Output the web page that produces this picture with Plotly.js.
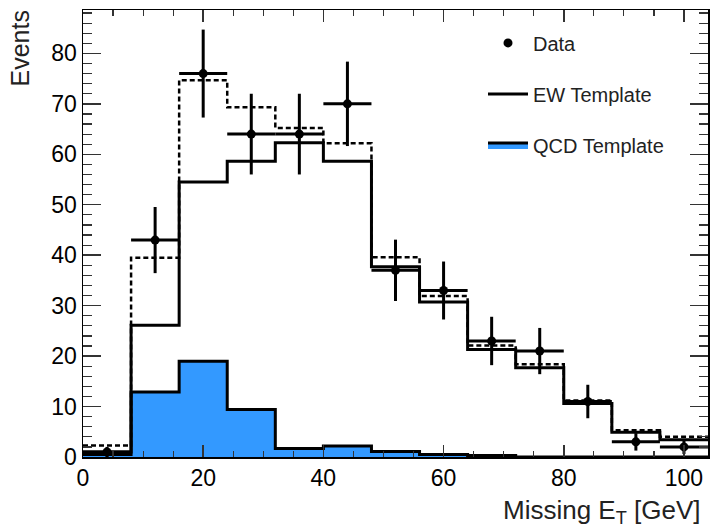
<!DOCTYPE html>
<html>
<head>
<meta charset="utf-8">
<script src="https://cdn.plot.ly/plotly-3.0.1.min.js"></script>
<style>html,body{margin:0;padding:0;background:#fff}#chart{width:710px;height:529px}</style>
</head>
<body>
<div id="chart"></div>
<script>
// Bin edges of the Missing E_T histogram [GeV]
const binEdges = [0, 8, 16, 24, 32, 40, 48, 56, 64, 72, 80, 88, 96, 104];
// Observed data counts per bin
const dataCounts = [1, 43, 76, 64, 64, 70, 37, 33, 23, 21, 11, 3, 2];
// EW template (solid)
const ewTemplate = [1.0, 26.1, 54.5, 58.6, 62.3, 58.6, 37.7, 30.7, 21.3, 17.7, 10.6, 4.9, 3.4];
// Total fit (dotted)
const totalFit = [2.3, 39.5, 74.7, 69.3, 65.2, 62.2, 39.6, 31.9, 22.1, 18.4, 11.2, 5.3, 4.0];
// QCD template (filled)
const qcdTemplate = [0.5, 12.9, 19.0, 9.4, 1.7, 2.2, 1.1, 0.5, 0.3, 0, 0, 0, 0];

const centers = dataCounts.map((_, i) => (binEdges[i] + binEdges[i + 1]) / 2);
const halfW = dataCounts.map((_, i) => (binEdges[i + 1] - binEdges[i]) / 2);
const errs = dataCounts.map(v => Math.sqrt(v));
const stepY = arr => arr.concat([arr[arr.length - 1]]);

const FONT = '"Liberation Sans", Arial, Helvetica, sans-serif';

const traces = [
  {
    type: 'scatter', mode: 'lines', name: 'QCD Template',
    x: binEdges, y: stepY(qcdTemplate), line: {shape: 'hv', color: '#000', width: 3},
    fill: 'tozeroy', fillcolor: '#3399ff', legendrank: 3, legendgroup: 'c'
  },
  {
    type: 'scatter', mode: 'lines', name: 'Total',
    x: binEdges, y: stepY(totalFit), line: {shape: 'hv', color: '#000', width: 2.5, dash: '5px,3px'},
    showlegend: false
  },
  {
    type: 'scatter', mode: 'lines', name: 'EW Template',
    x: binEdges, y: stepY(ewTemplate), line: {shape: 'hv', color: '#000', width: 3},
    legendrank: 2, legendgroup: 'b'
  },
  {
    type: 'scatter', mode: 'markers', name: 'Data',
    x: centers, y: dataCounts,
    marker: {color: '#000', size: 9},
    error_y: {type: 'data', array: errs, color: '#000', thickness: 3, width: 0},
    error_x: {type: 'data', array: halfW, color: '#000', thickness: 3, width: 0},
    legendrank: 1, legendgroup: 'a'
  }
];

const layout = {
  width: 710, height: 529,
  margin: {l: 83, r: 2, t: 10, b: 72},
  paper_bgcolor: '#fff', plot_bgcolor: '#fff',
  font: {family: FONT, color: '#000', size: 23},
  showlegend: true,
  legend: {
    x: 0.64, y: 0.97, xanchor: 'left', yanchor: 'top',
    font: {family: FONT, size: 20, color: '#222'},
    bgcolor: 'rgba(0,0,0,0)', tracegroupgap: 22, itemwidth: 40
  },
  xaxis: {
    range: [0, 104], showgrid: false, zeroline: false,
    showline: true, linecolor: '#000', linewidth: 1.5, mirror: 'allticks',
    ticks: 'inside', ticklen: 12, tickwidth: 1.5, tickcolor: '#333',
    dtick: 20, tick0: 0,
    tickfont: {family: FONT, size: 23, color: '#000'},
    minor: {dtick: 5, ticks: 'inside', ticklen: 6, tickwidth: 1.2, tickcolor: '#333', showgrid: false}
  },
  yaxis: {
    range: [0, 88.6], showgrid: false, zeroline: false,
    showline: true, linecolor: '#000', linewidth: 1.5, mirror: 'allticks',
    ticks: 'inside', ticklen: 18, tickwidth: 1.5, tickcolor: '#333',
    dtick: 10, tick0: 0,
    tickfont: {family: FONT, size: 23, color: '#000'},
    minor: {dtick: 2, ticks: 'inside', ticklen: 9, tickwidth: 1.2, tickcolor: '#333', showgrid: false}
  },
  annotations: [
    {
      text: 'Events', xref: 'paper', yref: 'paper', x: -0.101, y: 1.003,
      xanchor: 'center', yanchor: 'top', textangle: -90, showarrow: false,
      font: {family: FONT, size: 25, color: '#222'}
    },
    {
      text: 'Missing E<sub>T</sub> [GeV]', xref: 'paper', yref: 'paper', x: 0.9925, y: -0.08,
      xanchor: 'right', yanchor: 'top', showarrow: false,
      font: {family: FONT, size: 26, color: '#222'}
    }
  ]
};

Plotly.newPlot('chart', traces, layout, {displayModeBar: false, staticPlot: true});
</script>
</body>
</html>
